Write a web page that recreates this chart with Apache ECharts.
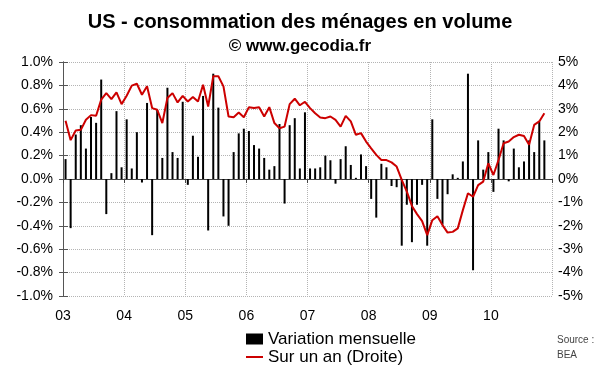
<!DOCTYPE html>
<html><head><meta charset="utf-8">
<script src="https://cdn.jsdelivr.net/npm/echarts@6/dist/echarts.min.js"></script>
<style>html,body{margin:0;padding:0;background:#fff}#c{width:600px;height:372px}</style>
</head><body><div id="c"></div>
<script>
// Year labels (one every 12 months, starting Jan 2003)
const yearLabels = ['03','04','05','06','07','08','09','10'];
// Monthly change (%), left axis, Jan 2003 .. Nov 2010
const monthly = [
  0.17,-0.42,0.38,0.46,0.26,0.53,0.48,0.85,-0.30,0.05,0.58,0.10,
  0.51,0.09,0.40,-0.03,0.65,-0.48,0.59,0.18,0.78,0.23,0.18,0.66,
  -0.05,0.37,0.19,0.71,-0.44,0.90,0.61,-0.32,-0.40,0.23,0.39,0.43,
  0.41,0.29,0.26,0.18,0.08,0.11,0.47,-0.21,0.46,0.52,0.09,0.57,
  0.09,0.09,0.10,0.20,0.16,-0.04,0.17,0.28,0.12,0.01,0.21,0.11,
  -0.17,-0.33,0.13,0.10,-0.06,-0.07,-0.57,-0.22,-0.54,-0.22,-0.05,-0.57,
  0.51,-0.17,-0.39,-0.13,0.04,0.01,0.15,0.90,-0.78,0.33,0.08,0.23,
  -0.11,0.43,0.33,-0.02,0.26,0.10,0.15,0.33,0.23,0.49,0.33
];
// Year-on-year change (%), right axis
const yoy = [
  2.49,1.66,2.07,2.10,2.53,2.73,2.70,3.39,3.67,3.41,3.70,3.20,
  3.56,3.99,4.07,3.60,3.96,3.03,2.96,2.39,3.46,3.67,3.27,3.55,
  3.31,3.50,3.31,4.03,3.10,4.39,4.39,3.96,2.67,2.64,2.84,2.64,
  3.07,3.03,3.07,2.67,3.07,2.39,2.17,2.24,3.20,3.43,3.15,3.30,
  3.03,2.81,2.63,2.60,2.67,2.53,2.24,2.70,2.46,1.89,1.96,1.60,
  1.31,1.03,0.81,0.81,0.71,0.53,-0.04,-0.54,-1.15,-1.50,-1.80,-2.40,
  -1.76,-1.59,-1.97,-2.29,-2.26,-2.11,-1.33,-0.61,-0.76,-0.26,-0.11,0.67,
  0.17,0.81,1.53,1.60,1.79,1.89,1.84,1.46,2.31,2.46,2.81
];
const seriesNames = ['Variation mensuelle','Sur un an (Droite)'];
const titleText = 'US - consommation des ménages en volume';
const subTitleText = '© www.gecodia.fr';
const sourceText = 'Source :\nBEA';

const FONT = '"Liberation Sans", Arial, sans-serif';
const nMonths = yearLabels.length * 12;
const grid = '#b4b4b4';

const chart = echarts.init(document.getElementById('c'), null, {renderer:'canvas'});
chart.setOption({
  animation: false,
  backgroundColor: '#fff',
  textStyle: {fontFamily: FONT},
  title: [
    {text: titleText, left: 'center', top: 12, padding: 0,
     textStyle: {fontSize: 20, fontWeight: 'bold', color: '#000', fontFamily: FONT}},
    {text: subTitleText, left: 'center', top: 38, padding: 0,
     textStyle: {fontSize: 17, fontWeight: 'bold', color: '#000', fontFamily: FONT}}
  ],
  legend: {
    orient: 'vertical', left: 246, top: 330, padding: 0, itemGap: 0,
    itemWidth: 17, itemHeight: 11,
    textStyle: {fontSize: 17, lineHeight: 18, color: '#000', fontFamily: FONT},
    data: [{name: seriesNames[0], icon: 'rect'},
           {name: seriesNames[1], icon: 'path://M0,0 L17,0 L17,2 L0,2 Z',
            itemStyle: {color: '#cc0000'}}]
  },
  graphic: [{
    type: 'text', left: 557, top: 333,
    style: {text: sourceText, fontSize: 10, lineHeight: 15, fill: '#444', fontFamily: FONT}
  }],
  grid: {left: 63, right: 48, top: 62, bottom: 76, containLabel: false},
  xAxis: [{
    type: 'value', position: 'bottom', min: 0, max: nMonths, interval: 12,
    axisLine: {show: true, onZero: true, lineStyle: {color: '#444', width: 1}},
    axisTick: {show: true, length: 4, lineStyle: {color: '#444'}},
    axisLabel: {show: false},
    splitLine: {show: true, lineStyle: {color: grid, type: 'dotted', width: 1}}
  }, {
    type: 'value', position: 'bottom', min: 0, max: nMonths, interval: 12,
    axisLine: {show: false, onZero: false},
    axisTick: {show: false},
    splitLine: {show: false},
    axisLabel: {show: true, margin: 13, fontSize: 14, color: '#000', fontFamily: FONT,
      formatter: v => yearLabels[Math.round(v / 12)] || ''}
  }],
  yAxis: [{
    type: 'value', position: 'left', min: -1, max: 1, interval: 0.2,
    axisLine: {show: true, lineStyle: {color: '#555'}},
    axisTick: {show: true, length: 4, lineStyle: {color: '#555'}},
    axisLabel: {fontSize: 14, color: '#000', margin: 10, fontFamily: FONT,
      formatter: v => (Math.abs(v) < 1e-9 ? 0 : v).toFixed(1) + '%'},
    splitLine: {show: true, lineStyle: {color: grid, type: 'dotted', width: 1}}
  }, {
    type: 'value', position: 'right', min: -5, max: 5, interval: 1,
    axisLine: {show: true, lineStyle: {color: '#555'}},
    axisTick: {show: true, length: 5, lineStyle: {color: '#555'}},
    axisLabel: {fontSize: 14, color: '#000', margin: 6, fontFamily: FONT,
      formatter: v => Math.round(v) + '%'},
    splitLine: {show: false}
  }],
  series: [{
    name: seriesNames[0], type: 'bar', xAxisIndex: 0, yAxisIndex: 0,
    barWidth: 2, itemStyle: {color: '#000'},
    data: monthly.map((v, i) => [i + 0.5, v])
  }, {
    name: seriesNames[1], type: 'line', xAxisIndex: 0, yAxisIndex: 1,
    symbol: 'none', showSymbol: false,
    lineStyle: {color: '#cc0000', width: 2}, itemStyle: {color: '#cc0000'},
    data: yoy.map((v, i) => [i + 0.5, v])
  }]
});
</script></body></html>
